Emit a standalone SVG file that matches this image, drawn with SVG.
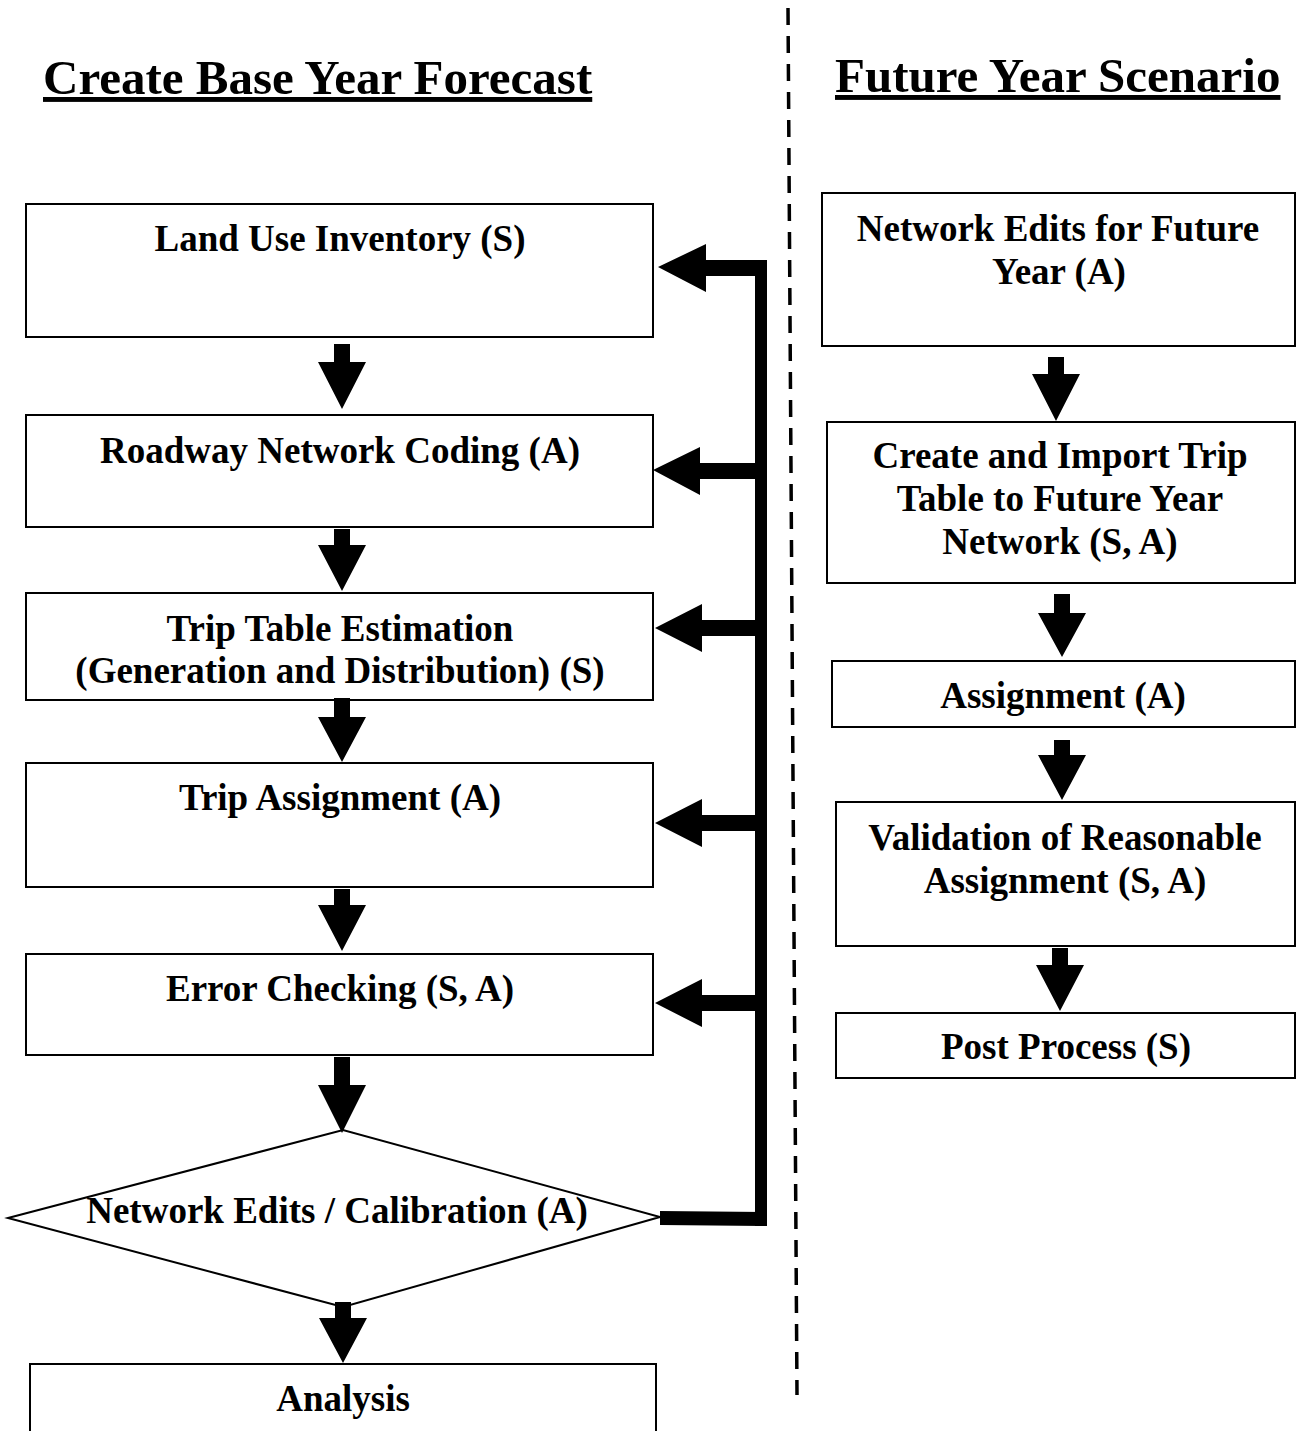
<svg xmlns="http://www.w3.org/2000/svg" width="1305" height="1431" viewBox="0 0 1305 1431">
<style>
.box{fill:#fff;stroke:#000;stroke-width:2}
.t{font-family:"Liberation Serif","Times New Roman",serif;font-weight:bold;font-size:37px;text-anchor:middle;fill:#000}
.h{font-family:"Liberation Serif","Times New Roman",serif;font-weight:bold;font-size:49px;text-decoration:underline;fill:#000}
.ar{fill:#000}
</style>
<rect width="1305" height="1431" fill="#fff"/>
<g id="divider"><line x1="788" y1="8" x2="797" y2="1395" stroke="#000" stroke-width="3.5" stroke-dasharray="17,11"/></g>
<g id="titles">
<text class="h" x="43" y="94">Create Base Year Forecast</text>
<text class="h" x="835" y="92">Future Year Scenario</text>
</g>
<g id="n1"><rect class="box" x="26" y="204" width="627" height="133"/><text class="t" x="340" y="251">Land Use Inventory (S)</text></g>
<g id="n2"><rect class="box" x="26" y="415" width="627" height="112"/><text class="t" x="340" y="463">Roadway Network Coding (A)</text></g>
<g id="n3"><rect class="box" x="26" y="593" width="627" height="107"/><text class="t" x="340" y="641">Trip Table Estimation</text><text class="t" x="340" y="683">(Generation and Distribution) (S)</text></g>
<g id="n4"><rect class="box" x="26" y="763" width="627" height="124"/><text class="t" x="340" y="810">Trip Assignment (A)</text></g>
<g id="n5"><rect class="box" x="26" y="954" width="627" height="101"/><text class="t" x="340" y="1001">Error Checking (S, A)</text></g>
<g id="n6"><polygon class="box" points="8,1218 343,1130 660,1217 343,1307"/><text class="t" x="337" y="1223">Network Edits / Calibration (A)</text></g>
<g id="n7"><rect class="box" x="30" y="1364" width="626" height="90"/><text class="t" x="343" y="1411">Analysis</text></g>
<g id="r1"><rect class="box" x="822" y="193" width="473" height="153"/><text class="t" x="1058" y="241">Network Edits for Future</text><text class="t" x="1059" y="284">Year (A)</text></g>
<g id="r2"><rect class="box" x="827" y="422" width="468" height="161"/><text class="t" x="1060" y="468">Create and Import Trip</text><text class="t" x="1060" y="511">Table to Future Year</text><text class="t" x="1060" y="554">Network (S, A)</text></g>
<g id="r3"><rect class="box" x="832" y="661" width="463" height="66"/><text class="t" x="1063" y="708">Assignment (A)</text></g>
<g id="r4"><rect class="box" x="836" y="802" width="459" height="144"/><text class="t" x="1065" y="850">Validation of Reasonable</text><text class="t" x="1065" y="893">Assignment (S, A)</text></g>
<g id="r5"><rect class="box" x="836" y="1013" width="459" height="65"/><text class="t" x="1066" y="1059">Post Process (S)</text></g>
<g id="connectors">
<path class="ar" d="M334,344H350V362H366L342,409L318,362H334Z"/>
<path class="ar" d="M334,529H350V545H366L342,591L318,545H334Z"/>
<path class="ar" d="M334,698H350V717H366L342,762L318,717H334Z"/>
<path class="ar" d="M334,889H350V905H366L342,951L318,905H334Z"/>
<path class="ar" d="M334,1057H350V1085H366L342,1133L318,1085H334Z"/>
<path class="ar" d="M335,1302H351V1318H367L343,1363L319,1318H335Z"/>
<path class="ar" d="M1048,357H1064V374H1080L1056,421L1032,374H1048Z"/>
<path class="ar" d="M1054,594H1070V613H1086L1062,657L1038,613H1054Z"/>
<path class="ar" d="M1054,740H1070V755H1086L1062,800L1038,755H1054Z"/>
<path class="ar" d="M1052,948H1068V965H1084L1060,1011L1036,965H1052Z"/>
<path class="ar" d="M755,275H767V1226H755Z"/>
<path class="ar" d="M706,260H767V276H706V292L658,267L706,244Z"/>
<path class="ar" d="M700,463H756V479H700V495L653,470L700,447Z"/>
<path class="ar" d="M702,620H756V636H702V652L655,628L702,604Z"/>
<path class="ar" d="M702,815H756V831H702V847L655,823L702,799Z"/>
<path class="ar" d="M702,995H756V1011H702V1027L655,1003L702,979Z"/>
<path class="ar" d="M660,1211L767,1212V1226L660,1225Z"/>
</g>
</svg>
